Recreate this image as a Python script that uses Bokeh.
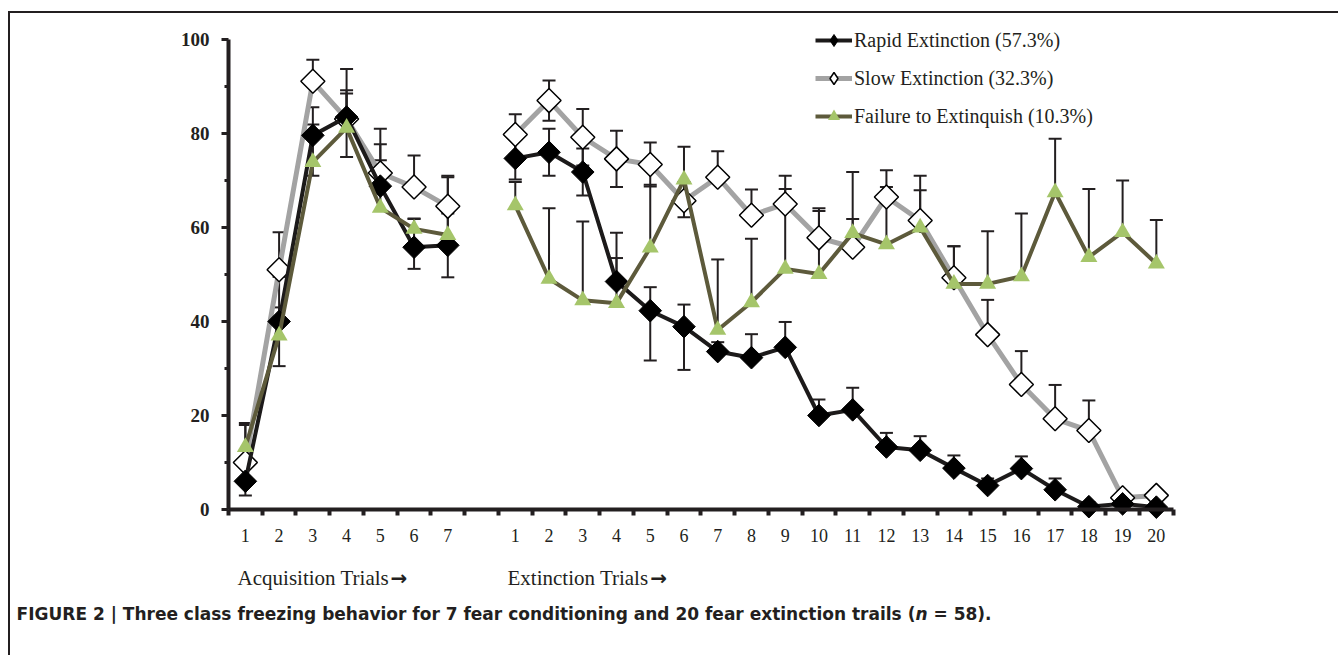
import numpy as np
from bokeh.plotting import figure
from bokeh.models import (ColumnDataSource, Whisker, TeeHead, Legend, LegendItem,
                          FixedTicker, Range1d, Label)
from bokeh.embed import file_html
from bokeh.resources import INLINE

# ---------------- data ----------------
acq_labels = ["1", "2", "3", "4", "5", "6", "7"]
ext_labels = ["1", "2", "3", "4", "5", "6", "7", "8", "9", "10",
              "11", "12", "13", "14", "15", "16", "17", "18", "19", "20"]

rapid_acq = [6, 40, 79.6, 83.5, 68.8, 55.8, 56.2]
rapid_ext = [74.7, 76, 71.8, 48.5, 42.3, 38.9, 33.6, 32.3, 34.5, 20,
             21.2, 13.3, 12.6, 8.8, 5.1, 8.7, 4.2, 0.6, 1.2, 0.5]
rapid_up_acq = [3, 9.5, 6, 5, 5.5, 6, 6.8]
rapid_up_ext = [4.5, 5, 5, 5, 5, 4.7, 2, 5, 5.4, 3.4,
                4.7, 3, 3, 2.7, 1.5, 2.6, 2.4, 1, 1, 1]
rapid_dn_acq = [3, 9.5, 8.6, 8.5, 0, 4.6, 6.8]
rapid_dn_ext = [4.5, 5, 5, 0, 10.6, 9.2, 0, 0, 0, 0,
                0, 0, 0, 0, 0, 0, 0, 0, 0, 0]

slow_acq = [10, 51, 91.1, 83.1, 71.6, 68.6, 64.5]
slow_ext = [79.8, 87, 79.2, 74.6, 73.4, 65.7, 70.7, 62.6, 65, 57.8,
            55.8, 66.5, 61.5, 49.3, 37.2, 26.6, 19.3, 16.8, 2.5, 3]
slow_up_acq = [8, 8, 4.6, 10.6, 9.4, 6.7, 6.5]
slow_up_ext = [4.3, 4.3, 6, 6, 4.7, 4, 5.5, 5.5, 6, 6.3,
               6, 5.7, 6.4, 6.7, 7.4, 7.1, 7.2, 6.4, 1, 1]
slow_dn_acq = [0, 0, 0, 0, 0, 0, 0]
slow_dn_ext = [4.3, 4.3, 6, 6, 4.7, 3.5, 0, 0, 0, 0,
               0, 0, 0, 0, 0, 0, 0, 0, 0, 0]

fail_acq = [13.3, 37, 73.9, 81.2, 64.2, 59.7, 58.4]
fail_ext = [64.7, 49.1, 44.5, 43.9, 55.7, 70.2, 38.2, 44.1, 51.2, 50.1,
            58.8, 56.4, 60, 48, 48, 49.6, 67.5, 53.7, 59, 52.3]
fail_up_acq = [5.1, 6, 8, 8, 13.5, 2.2, 12.3]
fail_up_ext = [5, 15, 16.8, 15, 13.4, 7, 15, 13.5, 17, 13.4,
               13, 12.2, 11, 8, 11.2, 13.4, 11.4, 14.5, 11, 9.3]

series_names = ["Rapid Extinction (57.3%)", "Slow Extinction (32.3%)",
                "Failure to Extinquish (10.3%)"]

# ---------------- positions ----------------
acq_pos = np.arange(1, len(acq_labels) + 1, dtype=float)
gap_pos = np.array([len(acq_labels) + 1], dtype=float)
ext_pos = np.arange(len(acq_labels) + 2, len(acq_labels) + 2 + len(ext_labels), dtype=float)
x_all = np.concatenate([acq_pos, gap_pos, ext_pos])
x_pts = np.concatenate([acq_pos, ext_pos])


def with_gap(a, b):
    return np.concatenate([np.array(a, float), [np.nan], np.array(b, float)])


def pts(a, b):
    return np.concatenate([np.array(a, float), np.array(b, float)])


SERIF = "Liberation Serif"
INK = "#231f20"
C_RAPID = "#1c1a1a"
C_SLOW = "#a3a3a3"
C_FAIL = "#5d5a3b"
C_TRI = "#a5c56a"

p = figure(width=1330, height=644,
           x_range=Range1d(-5.961, 33.458), y_range=Range1d(-31.49, 105.53),
           output_backend="svg", toolbar_location=None,
           min_border_left=0, min_border_right=0,
           min_border_top=0, min_border_bottom=0)
p.outline_line_color = None
p.xgrid.visible = False
p.ygrid.visible = False
p.styles = {"border-top": "2px solid #231f20", "border-left": "2px solid #231f20",
            "margin-top": "11px", "margin-left": "8px"}

# ---------------- series ----------------
slow_line = p.line(x_all, with_gap(slow_acq, slow_ext), line_color=C_SLOW, line_width=5)
slow_mk = p.scatter(x_pts, pts(slow_acq, slow_ext), marker="square", angle=np.pi / 4,
                    size=17, fill_color="white", line_color="black", line_width=1.5)

rapid_line = p.line(x_all, with_gap(rapid_acq, rapid_ext), line_color=C_RAPID, line_width=4)
rapid_mk = p.scatter(x_pts, pts(rapid_acq, rapid_ext), marker="square", angle=np.pi / 4,
                     size=16, fill_color="black", line_color="black")

fail_line = p.line(x_all, with_gap(fail_acq, fail_ext), line_color=C_FAIL, line_width=4)
fail_mk = p.scatter(x_pts, pts(fail_acq, fail_ext), marker="triangle", size=17,
                    fill_color=C_TRI, line_color=None)

# hidden marker renderers used only for the legend swatches
rapid_lg = p.scatter(x_pts, pts(rapid_acq, rapid_ext), marker="diamond",
                     fill_color="black", line_color="black", visible=False)
slow_lg = p.scatter(x_pts, pts(slow_acq, slow_ext), marker="diamond", fill_color="white",
                    line_color="black", line_width=1.5, visible=False)
fail_lg = p.scatter(x_pts, pts(fail_acq, fail_ext), marker="triangle", fill_color=C_TRI,
                    line_color=None, visible=False)


# ---------------- error bars ----------------
def add_whiskers(y, up, dn):
    y = np.asarray(y, float)
    up = np.asarray(up, float)
    dn = np.asarray(dn, float)
    mu = up > 0
    src_u = ColumnDataSource(dict(x=x_pts[mu], lo=y[mu], hi=(y + up)[mu]))
    p.add_layout(Whisker(source=src_u, base="x", lower="lo", upper="hi",
                         line_color=INK, line_width=2, lower_head=None,
                         upper_head=TeeHead(size=13, line_width=2, line_color=INK)))
    md = dn > 0
    if md.any():
        src_d = ColumnDataSource(dict(x=x_pts[md], lo=(y - dn)[md], hi=y[md]))
        p.add_layout(Whisker(source=src_d, base="x", lower="lo", upper="hi",
                             line_color=INK, line_width=2, upper_head=None,
                             lower_head=TeeHead(size=13, line_width=2, line_color=INK)))


add_whiskers(pts(slow_acq, slow_ext), pts(slow_up_acq, slow_up_ext), pts(slow_dn_acq, slow_dn_ext))
add_whiskers(pts(rapid_acq, rapid_ext), pts(rapid_up_acq, rapid_up_ext), pts(rapid_dn_acq, rapid_dn_ext))
add_whiskers(pts(fail_acq, fail_ext), pts(fail_up_acq, fail_up_ext), np.zeros(len(x_pts)))

# ---------------- axes ----------------
xa = p.xaxis[0]
xa.fixed_location = 0
xa.bounds = (0.5, 28.5)
xa.ticker = FixedTicker(ticks=list(x_pts), minor_ticks=list(np.arange(0.5, 29.0, 1.0)))
xa.major_label_overrides = {float(x): lab for x, lab in zip(x_pts, acq_labels + ext_labels)}
xa.axis_line_width = 4
xa.axis_line_color = INK
xa.major_tick_line_color = None
xa.major_tick_out = 6
xa.major_tick_in = 0
xa.minor_tick_line_color = INK
xa.minor_tick_line_width = 4
xa.minor_tick_out = 6
xa.minor_tick_in = 0
xa.major_label_standoff = 14
xa.major_label_text_font = SERIF
xa.major_label_text_font_size = "18px"
xa.major_label_text_color = INK

ya = p.yaxis[0]
ya.fixed_location = 0.5
ya.bounds = (0, 100)
ya.ticker = FixedTicker(ticks=[0, 20, 40, 60, 80, 100], minor_ticks=[10, 30, 50, 70, 90])
ya.axis_line_width = 4
ya.axis_line_color = INK
ya.major_tick_line_color = INK
ya.major_tick_line_width = 3
ya.major_tick_out = 7
ya.major_tick_in = 0
ya.minor_tick_line_color = INK
ya.minor_tick_line_width = 3
ya.minor_tick_out = 4
ya.minor_tick_in = 0
ya.major_label_standoff = 12
ya.major_label_text_font = SERIF
ya.major_label_text_font_style = "bold"
ya.major_label_text_font_size = "19px"
ya.major_label_text_color = INK

# ---------------- legend ----------------
legend = Legend(items=[LegendItem(label=series_names[0], renderers=[rapid_line, rapid_lg]),
                       LegendItem(label=series_names[1], renderers=[slow_line, slow_lg]),
                       LegendItem(label=series_names[2], renderers=[fail_line, fail_lg])],
                location=(805, 526), glyph_width=37, glyph_height=30, spacing=8,
                padding=0, margin=0, border_line_color=None, background_fill_alpha=0,
                label_text_font=SERIF, label_text_font_size="20px", label_standoff=2,
                label_text_color=INK)
p.add_layout(legend)

# ---------------- texts ----------------
p.add_layout(Label(x=0.77, y=-14.5, text="Acquisition Trials", text_font=SERIF,
                   text_font_size="21px", text_baseline="middle", text_color=INK))
p.add_layout(Label(x=5.30, y=-14.5, text="\u2192", text_font="DejaVu Sans",
                   text_font_style="bold", text_font_size="20px",
                   text_baseline="middle", text_color=INK))
p.add_layout(Label(x=8.77, y=-14.5, text="Extinction Trials", text_font=SERIF,
                   text_font_size="21px", text_baseline="middle", text_color=INK))
p.add_layout(Label(x=13.00, y=-14.5, text="\u2192", text_font="DejaVu Sans",
                   text_font_style="bold", text_font_size="20px",
                   text_baseline="middle", text_color=INK))

cap_font = "DejaVu Sans"
p.add_layout(Label(x=-5.78, y=-22.3,
                   text="FIGURE 2 | Three class freezing behavior for 7 fear conditioning and 20 fear extinction trails (",
                   text_font=cap_font, text_font_style="bold", text_font_size="17px",
                   text_baseline="middle", text_color=INK))
p.add_layout(Label(x=20.86, y=-22.3, text="n", text_font=cap_font,
                   text_font_style="bold italic", text_font_size="17px",
                   text_baseline="middle", text_color=INK))
p.add_layout(Label(x=21.22, y=-22.3, text="\u00a0= 58).", text_font=cap_font,
                   text_font_style="bold", text_font_size="17px",
                   text_baseline="middle", text_color=INK))

open("out.html", "w").write(file_html(p, INLINE))
